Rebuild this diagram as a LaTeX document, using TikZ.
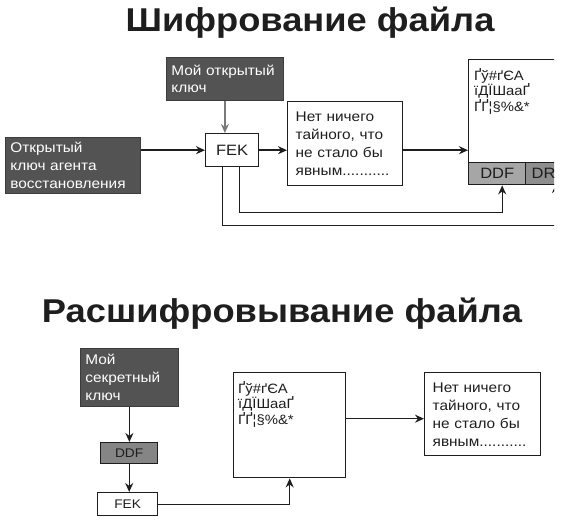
\documentclass[tikz,border=0pt]{standalone}
\usepackage{fontspec}
\setmainfont{Liberation Sans}[FakeStretch=1.1]
\usetikzlibrary{arrows.meta}
\definecolor{darkfill}{HTML}{535353}
\definecolor{darkline}{HTML}{3C3C3C}
\definecolor{ddflight}{HTML}{A6A6A6}
\definecolor{drfgray}{HTML}{8E8E8E}
\definecolor{ddfdark}{HTML}{858585}
\definecolor{arrgray}{HTML}{7A7A7A}
\definecolor{ink}{HTML}{1E1E1E}
\tikzset{
  title/.style={font=\fontsize{33}{40}\selectfont\bfseries, text=ink, inner sep=0pt},
  body/.style={font=\fontsize{14}{18}\selectfont},
  darkbox/.style={rectangle, draw=darkline, fill=darkfill, line width=0.8pt, text=white,
    anchor=north west, inner xsep=5pt, inner ysep=0pt, align=left,
    font=\fontsize{14}{17.5}\selectfont},
  plainbox/.style={rectangle, draw=ink, fill=white, line width=1.4pt, text=ink,
    anchor=north west, inner xsep=8pt, inner ysep=0pt},
  cellbox/.style={rectangle, draw=ink, line width=1.4pt, text=ink, anchor=north west,
    inner xsep=6pt, inner ysep=0pt},
  ciphertext/.style={anchor=north west, inner sep=0pt, align=left, text=ink,
    font=\fontsize{13.5}{13}\selectfont},
  arr/.style={draw=ink, line width=1.4pt, -{Stealth[length=9pt,width=8pt]}},
}
\begin{document}
\begin{tikzpicture}[x=1pt,y=-1pt]
\useasboundingbox (0,0) rectangle (567,526);

% ---------- Top: encryption ----------
\node[title, anchor=base] (t1) at (310,32) {Шифрование файла};

\node[darkbox, minimum width=117pt, minimum height=43pt, text width=107pt] (mykey) at (166,57) {Мой открытый\\ключ};
\node[darkbox, minimum width=135pt, minimum height=56pt, text width=125pt, font=\fontsize{14}{18}\selectfont] (agent) at (5,137) {Открытый\\ключ агента\\восстановления};
\node[plainbox, minimum width=53pt, minimum height=33pt, inner xsep=2pt, font=\fontsize{15}{18}\selectfont] (fek1) at (205,133) {FEK};
\node[plainbox, body, minimum width=115pt, minimum height=84pt, text width=99pt, align=left] (plain1) at (287,101) {Нет ничего\\тайного, что\\не стало бы\\явным...........};

\begin{scope}
\clip (0,0) rectangle (554,526);
\node[plainbox, minimum width=150pt, minimum height=125pt] (cipher1) at (468,59) {};
\node[ciphertext] (ct1) at (474,68) {Ґў\#ґЄА\\[0pt]їДЇШааҐ\\ҐҐ¦§\%\&*};
\node[cellbox, fill=ddflight, minimum width=57pt, minimum height=22pt, font=\fontsize{15}{18}\selectfont] (ddf1) at (468,162) {DDF};
\node[cellbox, fill=drfgray, minimum width=90pt, minimum height=22pt, text width=78pt, align=left, font=\fontsize{15}{18}\selectfont] (drf1) at (525,162) {DRF};
\coordinate (a2) at (556,184);
\draw[arr] ([xshift=-9.5pt]fek1.south) -- ++(0,58) -| (a2);
\end{scope}

\draw[arr, draw=arrgray, arrows={-{Stealth[length=9pt,width=8pt,fill=arrgray]}}] (mykey.south) -- (mykey.south |- fek1.north);
\draw[arr] (agent.east |- fek1.west) -- (fek1.west);
\draw[arr] (fek1.east) -- (fek1.east -| plain1.west);
\draw[arr] (fek1.east -| plain1.east) -- (fek1.east -| cipher1.west);
\coordinate (a1) at ([xshift=5pt]ddf1.south);
\draw[arr] ([xshift=7.5pt]fek1.south) -- ++(0,45) -| (a1);

% ---------- Bottom: decryption ----------
\node[title, anchor=base] (t2) at (282,323) {Расшифровывание файла};

\node[darkbox, minimum width=98pt, minimum height=58pt, text width=88pt, font=\fontsize{14}{18}\selectfont] (seckey) at (80,348) {Мой\\секретный\\ключ};
\node[cellbox, fill=ddfdark, minimum width=57pt, minimum height=21pt, font=\fontsize{12.5}{15}\selectfont] (ddf2) at (100,442) {DDF};
\node[plainbox, minimum width=60pt, minimum height=23pt, inner xsep=2pt, font=\fontsize{12.5}{15}\selectfont] (fek2) at (97,492) {FEK};
\node[plainbox, minimum width=112pt, minimum height=105pt] (cipher2) at (233,372) {};
\node[ciphertext] (ct2) at (238,381) {Ґў\#ґЄА\\[0pt]їДЇШааҐ\\ҐҐ¦§\%\&*};
\node[plainbox, body, minimum width=116pt, minimum height=83pt, text width=100pt, align=left] (plain2) at (424,372) {Нет ничего\\тайного, что\\не стало бы\\явным...........};

\draw[arr] (seckey.south) -- (seckey.south |- ddf2.north);
\draw[arr] (ddf2.south) -- (ddf2.south |- fek2.north);
\draw[arr] (fek2.east) -| (cipher2.south);
\coordinate (c2) at ([yshift=6.5pt]cipher2.east);
\draw[arr] (c2) -- (c2 -| plain2.west);
\end{tikzpicture}
\end{document}
